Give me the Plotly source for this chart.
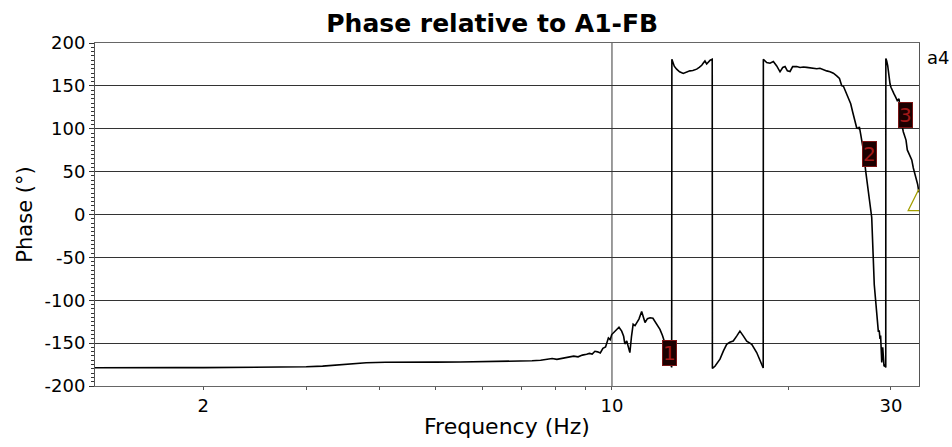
import numpy as np
import plotly.graph_objects as go

# ---- data (frequency in Hz, phase in degrees) ----
seg_a_freq = [1.306, 1.45, 1.6, 1.8, 2.0, 2.3, 2.6, 2.85, 3.0, 3.2, 3.4, 3.6, 3.8, 4.1, 4.5, 5.0,
              5.5, 5.95, 6.5, 7.0, 7.3, 7.55, 7.75, 7.9, 8.05, 8.25, 8.45, 8.6, 8.75, 8.9, 9.05,
              9.15, 9.25, 9.35, 9.45, 9.55, 9.65, 9.75, 9.86, 9.93, 9.99, 10.07, 10.19, 10.28,
              10.39, 10.47, 10.52, 10.6, 10.67, 10.73, 10.8, 10.87, 10.95, 11.02, 11.12, 11.24,
              11.32, 11.39, 11.5, 11.62, 11.75, 11.85, 11.95, 12.08, 12.2, 12.32, 12.45, 12.56,
              12.65]
seg_a_phase = [-178.7, -178.9, -178.5, -178.6, -178.6, -178.4, -178.2, -177.8, -177.6, -176.8,
               -175.6, -174.2, -172.8, -172.3, -172.6, -172.2, -172.0, -171.8, -171.4, -171.0,
               -170.6, -170.0, -169.0, -168.0, -168.9, -167.5, -166.0, -165.2, -166.0, -164.0,
               -163.0, -162.0, -162.8, -159.5, -160.2, -161.5, -156.0, -154.5, -144.0, -146.0,
               -140.0, -137.5, -133.0, -131.5, -136.0, -142.0, -151.0, -147.5, -155.0, -161.0,
               -142.0, -128.0, -129.5, -126.5, -122.0, -113.0, -119.0, -126.0, -121.5, -120.5,
               -121.0, -125.0, -130.0, -134.0, -141.0, -149.5, -160.0, -171.0, -178.3]

seg_b_freq = [12.66, 12.7, 12.78, 12.9, 13.05, 13.24, 13.4, 13.59, 13.75, 13.96, 14.1, 14.24,
              14.34, 14.42, 14.52, 14.61, 14.72, 14.84]
seg_b_phase = [181, 178, 173, 169.5, 166.5, 164.5, 166, 167.5, 168, 169.5, 171.5, 174, 177, 179,
               175.5, 177.5, 180, 181]

seg_c_freq = [14.85, 15.0, 15.15, 15.30, 15.51, 15.71, 15.9, 16.12, 16.34, 16.55, 16.78, 17.0,
              17.34, 17.68, 17.91, 18.14]
seg_c_phase = [-179.5, -177, -173, -168.7, -159, -151.4, -149, -147.6, -141.8, -136, -141.8,
               -147.6, -151.4, -161, -170, -179]

seg_d_freq = [18.15, 18.39, 18.63, 18.88, 19.13, 19.38, 19.59, 19.77, 19.95, 20.16, 20.37, 20.70,
              20.97, 21.25, 21.53, 21.8, 22.10, 22.4, 22.68, 22.98, 23.29, 23.60, 23.91, 24.23,
              24.49, 24.71, 24.88, 25.03, 25.26, 25.46, 25.60, 25.80, 26.04, 26.21, 26.38, 26.49,
              26.63, 26.91, 27.15, 27.48, 27.81, 28.09, 28.36, 28.54, 28.65, 28.73, 28.80, 28.93,
              29.04, 29.19, 29.30, 29.39]
seg_d_phase = [181, 177.2, 176.4, 178.3, 173.3, 166.4, 171.4, 172.5, 167.5, 166.8, 172.5, 172.5,
               171.4, 172, 171.6, 171, 170.6, 170, 170.6, 168.7, 167.5, 166.4, 164.8, 161.7,
               158.7, 150.2, 149.5, 145.2, 138.7, 131.8, 129.1, 119.5, 109.9, 101.1, 100.3,
               102.2, 93.4, 75, 51.1, 23.4, -3.5, -82, -111, -136, -136, -145, -141, -172.6,
               -155, -177, -176, -178.3]

seg_e_freq = [29.40, 29.50, 29.62, 29.69, 29.77, 29.89, 30.00, 30.15, 30.36, 30.56, 30.75, 30.96,
              31.08, 31.20, 31.33, 31.49, 31.61, 31.83, 31.99, 32.17, 32.34, 32.56, 32.76, 32.98,
              33.20, 33.33, 33.46, 33.5]
seg_e_phase = [181.8, 179.1, 173.3, 165.6, 156, 152.2, 148.3, 144.5, 140.6, 136.8, 132.9, 134.9,
               123.3, 113.7, 104.1, 96.5, 93.4, 86.8, 75.3, 71.5, 69.5, 63.7, 54.2, 46.5, 40.7,
               34.9, 27.3, 26]

marker_freq = [12.56, 27.56, 31.77]
marker_phase = [-162, 71, 116]
marker_labels = ["1", "2", "3"]

cursor_freq = [33.45]
cursor_phase = [29]
cursor_label = "a4"

x_tick_vals = [2, 10, 30]
x_tick_text = ["2", "10", "30"]
x_minor_vals = [3, 4, 5, 6, 7, 8, 9, 20]
x_grid_vals = [10]
y_tick_vals = [-200, -150, -100, -50, 0, 50, 100, 150, 200]
y_tick_text = ["-200", "-150", "-100", "-50", "0", "50", "100", "150", "200"]
x_range_hz = [1.306, 33.5]
y_range = [-200, 200]

freq_hz = seg_a_freq + seg_b_freq + seg_c_freq + seg_d_freq + seg_e_freq
phase_deg = seg_a_phase + seg_b_phase + seg_c_phase + seg_d_phase + seg_e_phase

FONT = "DejaVu Sans"

fig = go.Figure()
fig.add_trace(go.Scatter(x=freq_hz, y=phase_deg, mode="lines",
                         line=dict(color="black", width=1.6), hoverinfo="skip",
                         cliponaxis=False, showlegend=False))
fig.add_trace(go.Scatter(x=cursor_freq, y=cursor_phase, mode="markers",
                         marker=dict(symbol="arrow-up-open", size=21, color="#a39e00",
                                     line=dict(color="#a39e00", width=1.2)),
                         cliponaxis=True, showlegend=False, hoverinfo="skip"))

for gx in x_grid_vals:
    fig.add_shape(type="line", xref="x", yref="paper", x0=gx, x1=gx, y0=0, y1=1,
                  line=dict(color="#3a3a3a", width=1), layer="below")

for f, p, t in zip(marker_freq, marker_phase, marker_labels):
    fig.add_annotation(x=np.log10(f), y=p, xref="x", yref="y", text=t, showarrow=False,
                       font=dict(family=FONT, size=20, color="#a01818"),
                       bgcolor="#1c0000", bordercolor="#7a1414", borderwidth=1, borderpad=0,
                       xanchor="center", yanchor="middle")

fig.add_annotation(x=1.0073, y=183, xref="paper", yref="y", text=cursor_label, showarrow=False,
                   font=dict(family=FONT, size=18, color="black"),
                   xanchor="left", yanchor="middle")

fig.update_layout(
    width=952, height=447, autosize=False,
    margin=dict(l=95, r=33, t=43, b=56),
    paper_bgcolor="white", plot_bgcolor="white",
    title=dict(text="<b>Phase relative to A1-FB</b>", x=0.517, xanchor="center",
               y=1 - 23 / 447, yanchor="middle", yref="container",
               font=dict(family=FONT, size=25, color="black")),
    xaxis=dict(type="log", range=[np.log10(x_range_hz[0]), np.log10(x_range_hz[1])],
               tickmode="array", tickvals=x_tick_vals, ticktext=x_tick_text,
               ticks="outside", ticklen=3, tickcolor="#555555",
               showgrid=False, zeroline=False,
               showline=True, linecolor="#666666", linewidth=1, mirror=True,
               minor=dict(tickmode="array", tickvals=x_minor_vals, ticks="outside",
                          ticklen=3, tickcolor="#555555", showgrid=False),
               tickfont=dict(family=FONT, size=18, color="black"),
               title=dict(text="Frequency (Hz)", standoff=4,
                          font=dict(family=FONT, size=22, color="black"))),
    yaxis=dict(range=y_range, tickmode="array", tickvals=y_tick_vals, ticktext=y_tick_text,
               ticks="outside", ticklen=5, tickcolor="#333333",
               showgrid=True, gridcolor="#333333", gridwidth=1, zeroline=False,
               showline=True, linecolor="#555555", linewidth=1, mirror=True,
               minor=dict(dtick=5, ticks="outside", ticklen=3, tickcolor="#333333",
                          showgrid=False),
               tickfont=dict(family=FONT, size=18, color="black"),
               title=dict(text="Phase (°)", standoff=6,
                          font=dict(family=FONT, size=21, color="black"))),
)

fig.write_html("out.html")
